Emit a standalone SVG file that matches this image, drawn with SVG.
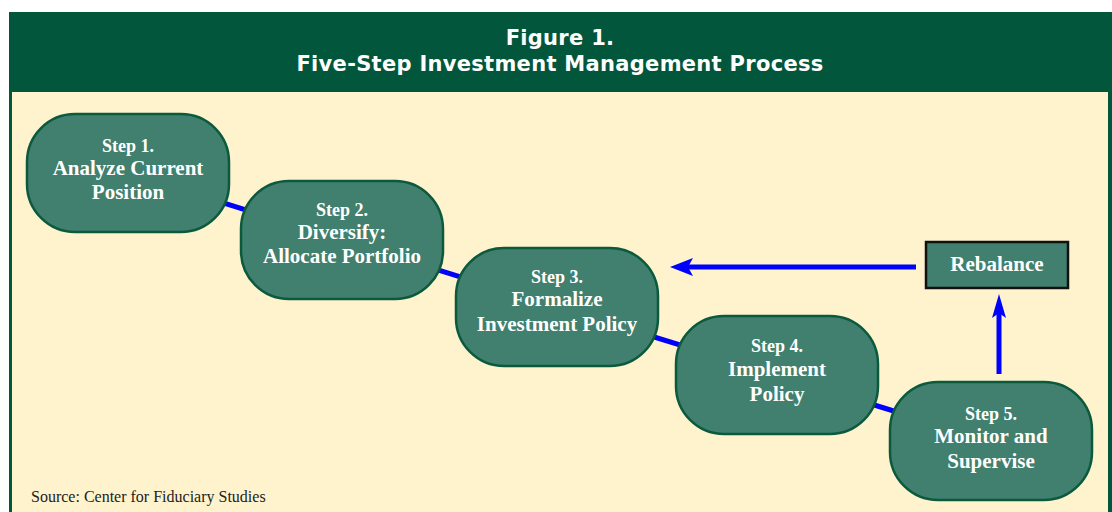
<svg xmlns="http://www.w3.org/2000/svg" width="1112" height="512" viewBox="0 0 1112 512">
<defs>
<style>
.node{fill:#417F6E;stroke:#0B5A3E;stroke-width:2.5}
.st{font-family:"Liberation Serif",serif;font-weight:bold;fill:#fff;font-size:18px;text-anchor:middle}
.mt{font-family:"Liberation Serif",serif;font-weight:bold;fill:#fff;font-size:21px;text-anchor:middle}
.title{font-family:"DejaVu Sans",Verdana,sans-serif;font-weight:bold;fill:#fff;font-size:21px;letter-spacing:0.3px;text-anchor:middle}
.conn{stroke:#0000FF;stroke-width:5;fill:none}
</style>
</defs>
<rect x="0" y="0" width="1112" height="512" fill="#fff"/>
<rect x="9" y="12" width="1103" height="500" fill="#02563C"/>
<rect x="12" y="92" width="1096" height="420" fill="#FEF3CD"/>
<text class="title" x="560" y="45">Figure 1.</text>
<text class="title" x="560" y="71">Five-Step Investment Management Process</text>
<g id="connectors">
<line class="conn" x1="128" y1="173" x2="342" y2="240"/>
<line class="conn" x1="342" y1="240" x2="557" y2="307"/>
<line class="conn" x1="557" y1="307" x2="777" y2="375"/>
<line class="conn" x1="777" y1="375" x2="991" y2="441"/>
<path class="conn" d="M916,267 L686,267"/>
<path d="M670,267 L693,258 L688,267 L693,276 Z" fill="#0000FF"/>
<path class="conn" d="M999,374 L999,308"/>
<path d="M999,294 L1006,318 L999,313 L992,318 Z" fill="#0000FF"/>
</g>
<g id="step1"><rect class="node" x="27" y="114" width="202" height="118" rx="48"/>
<text class="st" x="128" y="152">Step 1.</text><text class="mt" x="128" y="175">Analyze Current</text><text class="mt" x="128" y="199">Position</text></g>
<g id="step2"><rect class="node" x="241" y="181" width="202" height="118" rx="48"/>
<text class="st" x="342" y="216">Step 2.</text><text class="mt" x="342" y="239">Diversify:</text><text class="mt" x="342" y="263">Allocate Portfolio</text></g>
<g id="step3"><rect class="node" x="456" y="248" width="202" height="118" rx="48"/>
<text class="st" x="557" y="283">Step 3.</text><text class="mt" x="557" y="306">Formalize</text><text class="mt" x="557" y="331">Investment Policy</text></g>
<g id="step4"><rect class="node" x="676" y="316" width="202" height="118" rx="48"/>
<text class="st" x="777" y="352">Step 4.</text><text class="mt" x="777" y="376">Implement</text><text class="mt" x="777" y="401">Policy</text></g>
<g id="step5"><rect class="node" x="890" y="382" width="202" height="118" rx="48"/>
<text class="st" x="991" y="420">Step 5.</text><text class="mt" x="991" y="443">Monitor and</text><text class="mt" x="991" y="468">Supervise</text></g>
<g id="rebalance"><rect x="926" y="242" width="142" height="46" fill="#417F6E" stroke="#111" stroke-width="2.5"/>
<text class="mt" x="997" y="271">Rebalance</text></g>
<text x="31" y="502" font-family="Liberation Serif,serif" font-size="16" fill="#222">Source: Center for Fiduciary Studies</text>
</svg>
